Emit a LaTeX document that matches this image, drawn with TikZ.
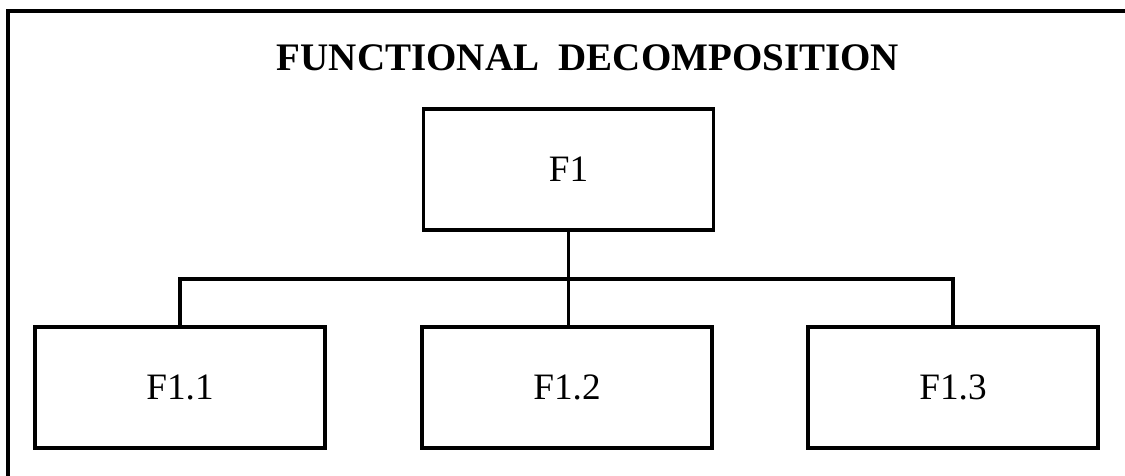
\documentclass[tikz,border=0pt]{standalone}
\usepackage{fontspec}
\setmainfont{Liberation Serif}
\usetikzlibrary{ positioning, % For easy node-relative placements
               }
\tikzset{fbox/.style={draw, line width=0.9pt, minimum width=2.9cm, minimum height=1.21cm,
                      font=\fontsize{10.6}{12}\selectfont}}

\begin{document}
\begin{tikzpicture}[line width=0.9pt] % tree of functions
  \clip (0,0) rectangle (11.25,4.75);
  \draw[line width=1.1pt] (0.08,-1) rectangle (12,4.64);

  \node[anchor=base, font=\bfseries\fontsize{11.1}{13}\selectfont] (title) at (5.88,4.05) {FUNCTIONAL\ \ DECOMPOSITION};

  \node[fbox] (f1) at (5.685,3.055) {F1};

  \node[fbox] (f11) at (1.80,0.875) {F1.1};
  \node[fbox] (f12) at (5.67,0.875) {F1.2};
  \node[fbox] (f13) at (9.53,0.875) {F1.3};

  \coordinate (bus) at (5.685,1.96);

  \draw (f1) -- (f1 |- f12.north);
  \draw (f11) |- (bus) -| (f13);
\end{tikzpicture}
\end{document}
